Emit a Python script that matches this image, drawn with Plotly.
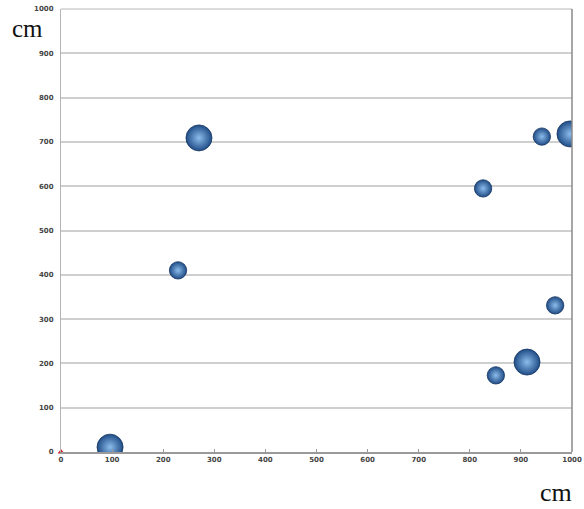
import plotly.graph_objects as go

# Data
x_vals = [96, 229, 270, 826, 941, 996, 967, 851, 912]
y_vals = [11, 410, 709, 595, 712, 718, 331, 173, 203]
sizes = [3, 2, 3, 2, 2, 3, 2, 2, 3]
origin_x = [0]
origin_y = [0]
tick_vals = [0, 100, 200, 300, 400, 500, 600, 700, 800, 900, 1000]
tick_text = [str(v) for v in tick_vals]

fig = go.Figure()

fig.add_trace(go.Scatter(
    x=x_vals, y=y_vals, mode="markers",
    marker=dict(
        size=sizes, sizemode="diameter", sizeref=3 / 26,
        color="#1f4c86", opacity=1,
        gradient=dict(type="radial", color="#8cbcec"),
        line=dict(width=0.8, color="#16355f"),
    ),
    cliponaxis=True,
    showlegend=False,
))

fig.add_trace(go.Scatter(
    x=origin_x, y=origin_y, mode="markers",
    marker=dict(symbol="triangle-up", size=6, color="#d0202a"),
    cliponaxis=False,
    showlegend=False,
))

axis_font = dict(family="DejaVu Sans", size=7, color="#444444", weight="bold")

fig.update_layout(
    width=584, height=509,
    margin=dict(l=61, r=12, t=9, b=57, autoexpand=False),
    paper_bgcolor="white", plot_bgcolor="white",
    xaxis=dict(
        range=[0, 1000], tickvals=tick_vals, ticktext=tick_text,
        showgrid=False, zeroline=False, automargin=False,
        showline=True, linecolor="#9a9a9a", linewidth=1.5, mirror=False,
        ticks="inside", ticklen=3, tickcolor="#9a9a9a",
        tickfont=axis_font, ticklabeloverflow="allow",
    ),
    yaxis=dict(
        range=[0, 1000], tickvals=tick_vals, ticktext=tick_text,
        showgrid=True, gridcolor="#cfcfcf", gridwidth=1.5, zeroline=False,
        automargin=False,
        showline=True, linecolor="#b5b5b5", linewidth=1,
        ticks="", tickfont=axis_font, ticklabelstandoff=5,
        ticklabeloverflow="allow",
    ),
    shapes=[
        dict(type="line", xref="paper", yref="paper", x0=1, x1=1, y0=0, y1=1,
             line=dict(color="#8a8a8a", width=1.5)),
        dict(type="line", xref="paper", yref="paper", x0=0, x1=1, y0=1, y1=1,
             line=dict(color="#cfcfcf", width=1.5), layer="below"),
    ],
    annotations=[
        dict(text="cm", xref="paper", yref="paper", x=0, y=1, xanchor="left", yanchor="top",
             xshift=-51, yshift=-4, showarrow=False,
             font=dict(family="Liberation Serif", size=25, color="#111111")),
        dict(text="cm", xref="paper", yref="paper", x=1, y=0, xanchor="right", yanchor="top",
             xshift=2, yshift=-24, showarrow=False,
             font=dict(family="Liberation Serif", size=26, color="#111111")),
    ],
)

fig.write_html(
    "out.html",
    config={"displayModeBar": False},
    post_script="document.body.style.margin='0';document.body.style.overflow='hidden';",
)
